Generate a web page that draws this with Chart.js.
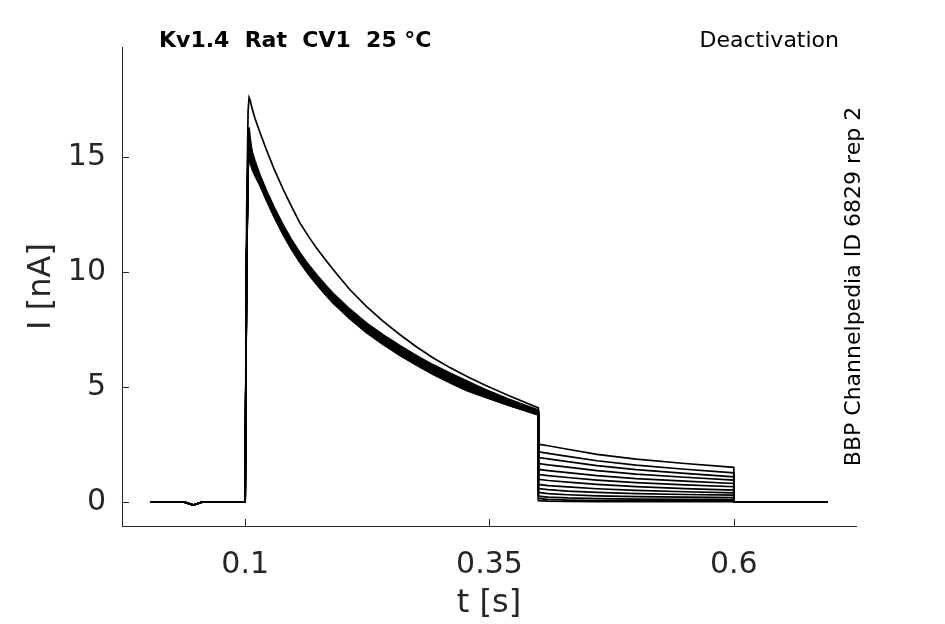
<!DOCTYPE html>
<html>
<head>
<meta charset="utf-8">
<script src="https://cdn.jsdelivr.net/npm/chart.js@4.4.1/dist/chart.umd.min.js"></script>
<style>
  html, body { margin: 0; padding: 0; background: #fff; }
  canvas { display: block; }
</style>
</head>
<body>
<canvas id="chart" width="945" height="624"></canvas>
<script>
// Tick labels
const xTicks = [0.1, 0.35, 0.6];
const yTicks = [0, 5, 10, 15];

// Holding period before the pulse (shared by all sweeps)
const preT = [0.003, 0.038, 0.047, 0.056, 0.1];
const preI = [0, 0, -0.13, 0, 0];

// Activation pulse, read per sweep
const pulseT = [0.1, 0.1015, 0.103, 0.104, 0.105, 0.107, 0.11, 0.115, 0.122, 0.13, 0.139, 0.147, 0.156, 0.165,
                0.173, 0.182, 0.19, 0.207, 0.224, 0.241, 0.2585, 0.2755, 0.2925, 0.31, 0.327, 0.344, 0.37, 0.4];
const pulse1  = [0, 12.5, 17.0, 17.6, 17.5, 17.15, 16.7, 16.1, 15.3, 14.45, 13.6, 12.9, 12.15, 11.55,
                 11.05, 10.55, 10.12, 9.25, 8.52, 7.87, 7.28, 6.75, 6.27, 5.84, 5.46, 5.12, 4.63, 4.1];
const pulse2  = [0, 10.92, 15.63, 16.3, 15.86, 15.27, 14.85, 14.25, 13.53, 12.8, 12.05, 11.45, 10.85, 10.32,
                 9.9, 9.45, 9.08, 8.4, 7.8, 7.28, 6.8, 6.37, 5.97, 5.6, 5.27, 4.93, 4.47, 4.0];
const pulse3  = [0, 10.8, 15.45, 16.1, 15.7, 15.15, 14.75, 14.18, 13.48, 12.75, 12.0, 11.4, 10.8, 10.27,
                 9.85, 9.4, 9.03, 8.35, 7.75, 7.23, 6.75, 6.32, 5.92, 5.55, 5.22, 4.89, 4.44, 3.98];
const pulse4  = [0, 10.71, 15.32, 15.95, 15.58, 15.06, 14.68, 14.12, 13.43, 12.7, 11.95, 11.35, 10.75, 10.22,
                 9.8, 9.35, 8.98, 8.3, 7.7, 7.18, 6.7, 6.27, 5.87, 5.5, 5.17, 4.85, 4.41, 3.95];
const pulse5  = [0, 10.62, 15.18, 15.8, 15.46, 14.97, 14.6, 14.07, 13.38, 12.65, 11.9, 11.3, 10.7, 10.17,
                 9.75, 9.3, 8.93, 8.25, 7.65, 7.13, 6.65, 6.22, 5.82, 5.45, 5.12, 4.81, 4.37, 3.93];
const pulse6  = [0, 10.56, 15.09, 15.7, 15.38, 14.91, 14.55, 14.04, 13.33, 12.6, 11.85, 11.25, 10.65, 10.12,
                 9.7, 9.25, 8.88, 8.2, 7.6, 7.08, 6.6, 6.17, 5.77, 5.4, 5.07, 4.77, 4.34, 3.9];
const pulse7  = [0, 10.5, 15.0, 15.6, 15.3, 14.85, 14.5, 14.0, 13.31, 12.58, 11.83, 11.23, 10.63, 10.1,
                 9.68, 9.23, 8.86, 8.18, 7.58, 7.06, 6.58, 6.15, 5.75, 5.38, 5.05, 4.75, 4.33, 3.89];
const pulse8  = [0, 10.44, 14.91, 15.5, 15.22, 14.79, 14.45, 13.97, 13.28, 12.55, 11.8, 11.2, 10.6, 10.07,
                 9.65, 9.2, 8.83, 8.15, 7.55, 7.03, 6.55, 6.12, 5.72, 5.35, 5.02, 4.73, 4.31, 3.87];
const pulse9  = [0, 10.38, 14.82, 15.4, 15.14, 14.73, 14.4, 13.93, 13.23, 12.5, 11.75, 11.15, 10.55, 10.02,
                 9.6, 9.15, 8.78, 8.1, 7.5, 6.98, 6.5, 6.07, 5.67, 5.3, 4.97, 4.69, 4.27, 3.85];
const pulse10 = [0, 10.32, 14.73, 15.3, 15.06, 14.67, 14.35, 13.9, 13.21, 12.48, 11.73, 11.13, 10.53, 10.0,
                 9.58, 9.13, 8.76, 8.08, 7.48, 6.96, 6.48, 6.05, 5.65, 5.28, 4.95, 4.67, 4.26, 3.84];
const pulse11 = [0, 10.26, 14.64, 15.2, 14.98, 14.61, 14.3, 13.86, 13.18, 12.45, 11.7, 11.1, 10.5, 9.97,
                 9.55, 9.1, 8.73, 8.05, 7.45, 6.93, 6.45, 6.02, 5.62, 5.25, 4.92, 4.65, 4.24, 3.82];
const pulse12 = [0, 10.2, 14.55, 15.1, 14.9, 14.55, 14.25, 13.83, 13.13, 12.4, 11.65, 11.05, 10.45, 9.92,
                 9.5, 9.05, 8.68, 8.0, 7.4, 6.88, 6.4, 5.97, 5.57, 5.2, 4.87, 4.61, 4.21, 3.8];
const pulse13 = [0, 10.14, 14.46, 15.0, 14.82, 14.49, 14.2, 13.79, 13.11, 12.38, 11.63, 11.03, 10.43, 9.9,
                 9.48, 9.03, 8.66, 7.98, 7.38, 6.86, 6.38, 5.95, 5.55, 5.18, 4.85, 4.59, 4.2, 3.79];

// Deactivation tails, read per sweep
const tailT = [0.4, 0.41, 0.43, 0.46, 0.5, 0.55, 0.6];
const tail1  = [2.52, 2.45, 2.3, 2.08, 1.87, 1.68, 1.51];
const tail2  = [2.19, 2.12, 1.99, 1.80, 1.61, 1.43, 1.27];
const tail3  = [1.94, 1.88, 1.76, 1.59, 1.41, 1.25, 1.10];
const tail4  = [1.68, 1.62, 1.52, 1.37, 1.22, 1.08, 0.96];
const tail5  = [1.42, 1.37, 1.28, 1.15, 1.02, 0.91, 0.81];
const tail6  = [1.20, 1.15, 1.07, 0.96, 0.85, 0.75, 0.67];
const tail7  = [0.99, 0.94, 0.87, 0.77, 0.67, 0.59, 0.52];
const tail8  = [0.77, 0.72, 0.66, 0.58, 0.51, 0.45, 0.40];
const tail9  = [0.59, 0.54, 0.48, 0.42, 0.37, 0.33, 0.30];
const tail10 = [0.42, 0.37, 0.32, 0.27, 0.24, 0.22, 0.20];
const tail11 = [0.26, 0.22, 0.18, 0.15, 0.13, 0.12, 0.12];
const tail12 = [0.16, 0.12, 0.09, 0.07, 0.06, 0.06, 0.06];
const tail13 = [0.06, 0.04, 0.03, 0.02, 0.02, 0.02, 0.02];

// After the tail step
const postT = [0.6, 0.696];
const postI = [0, 0];

const pulses = [pulse1, pulse2, pulse3, pulse4, pulse5, pulse6, pulse7, pulse8, pulse9, pulse10, pulse11, pulse12, pulse13];
const tails = [tail1, tail2, tail3, tail4, tail5, tail6, tail7, tail8, tail9, tail10, tail11, tail12, tail13];

function pts(ts, vs) {
    return ts.map((t, i) => ({ x: t, y: vs[i] }));
}

const datasets = pulses.map((p, k) => ({
    data: [].concat(pts(preT, preI), pts(pulseT, p), pts(tailT, tails[k]), pts(postT, postI)),
    borderColor: '#000',
    borderWidth: 1.7,
    pointRadius: 0,
    tension: 0,
    fill: false
}));

const AXIS = '#262626';

// inward tick marks, like the original figure
const inwardTicks = {
    id: 'inwardTicks',
    afterDatasetsDraw(chart) {
        const ctx = chart.ctx;
        const a = chart.chartArea;
        const xs = chart.scales.x, ys = chart.scales.y;
        ctx.save();
        ctx.strokeStyle = AXIS;
        ctx.lineWidth = 1;
        xTicks.forEach(v => {
            const px = Math.round(xs.getPixelForValue(v)) + 0.5;
            ctx.beginPath();
            ctx.moveTo(px, a.bottom);
            ctx.lineTo(px, a.bottom - 7);
            ctx.stroke();
        });
        yTicks.forEach(v => {
            const py = Math.round(ys.getPixelForValue(v)) + 0.5;
            ctx.beginPath();
            ctx.moveTo(a.left, py);
            ctx.lineTo(a.left + 7, py);
            ctx.stroke();
        });
        ctx.restore();
    }
};

// titles and side notes
const labels = {
    id: 'labels',
    afterDraw(chart) {
        const ctx = chart.ctx;
        const a = chart.chartArea;
        ctx.save();
        ctx.fillStyle = '#000';
        ctx.textBaseline = 'alphabetic';

        ctx.font = 'bold 22px "DejaVu Sans"';
        ctx.textAlign = 'left';
        ctx.fillText('Kv1.4  Rat  CV1  25 °C', 159, 47);

        ctx.font = '22px "DejaVu Sans"';
        ctx.textAlign = 'right';
        ctx.fillText('Deactivation', 839, 47);

        ctx.save();
        ctx.translate(860, (a.top + a.bottom) / 2);
        ctx.rotate(-Math.PI / 2);
        ctx.textAlign = 'center';
        ctx.fillText('BBP Channelpedia ID 6829 rep 2', 0, 0);
        ctx.restore();

        ctx.fillStyle = AXIS;
        ctx.font = '32px "DejaVu Sans"';
        ctx.textAlign = 'center';
        ctx.fillText('t [s]', (a.left + a.right) / 2, 612);

        ctx.save();
        ctx.translate(50, (a.top + a.bottom) / 2);
        ctx.rotate(-Math.PI / 2);
        ctx.fillText('I [nA]', 0, 0);
        ctx.restore();

        ctx.restore();
    }
};

const bgWhite = {
    id: 'bgWhite',
    beforeDraw(chart) {
        const ctx = chart.ctx;
        ctx.save();
        ctx.fillStyle = '#fff';
        ctx.fillRect(0, 0, chart.width, chart.height);
        ctx.restore();
    }
};

new Chart(document.getElementById('chart').getContext('2d'), {
    type: 'line',
    data: { datasets: datasets },
    options: {
        responsive: false,
        animation: false,
        devicePixelRatio: 1,
        layout: { padding: { left: 0, top: 47, right: 89, bottom: 0 } },
        plugins: {
            legend: { display: false },
            tooltip: { enabled: false }
        },
        scales: {
            x: {
                type: 'linear',
                min: -0.026,
                max: 0.725,
                afterFit: s => { s.height = 98; },
                afterBuildTicks: s => { s.ticks = xTicks.map(v => ({ value: v })); },
                grid: { drawOnChartArea: false, drawTicks: false },
                border: { display: true, color: AXIS, width: 1 },
                ticks: {
                    autoSkip: false,
                    maxRotation: 0,
                    padding: 21,
                    color: AXIS,
                    font: { family: 'DejaVu Sans', size: 30 },
                    callback: v => String(v)
                }
            },
            y: {
                type: 'linear',
                min: -1.04,
                max: 19.8,
                afterFit: s => { s.width = 122; },
                afterBuildTicks: s => { s.ticks = yTicks.map(v => ({ value: v })); },
                grid: { drawOnChartArea: false, drawTicks: false },
                border: { display: true, color: AXIS, width: 1 },
                ticks: {
                    autoSkip: false,
                    padding: 16,
                    color: AXIS,
                    font: { family: 'DejaVu Sans', size: 30 },
                    callback: v => String(v)
                }
            }
        }
    },
    plugins: [bgWhite, inwardTicks, labels]
});
</script>
</body>
</html>
